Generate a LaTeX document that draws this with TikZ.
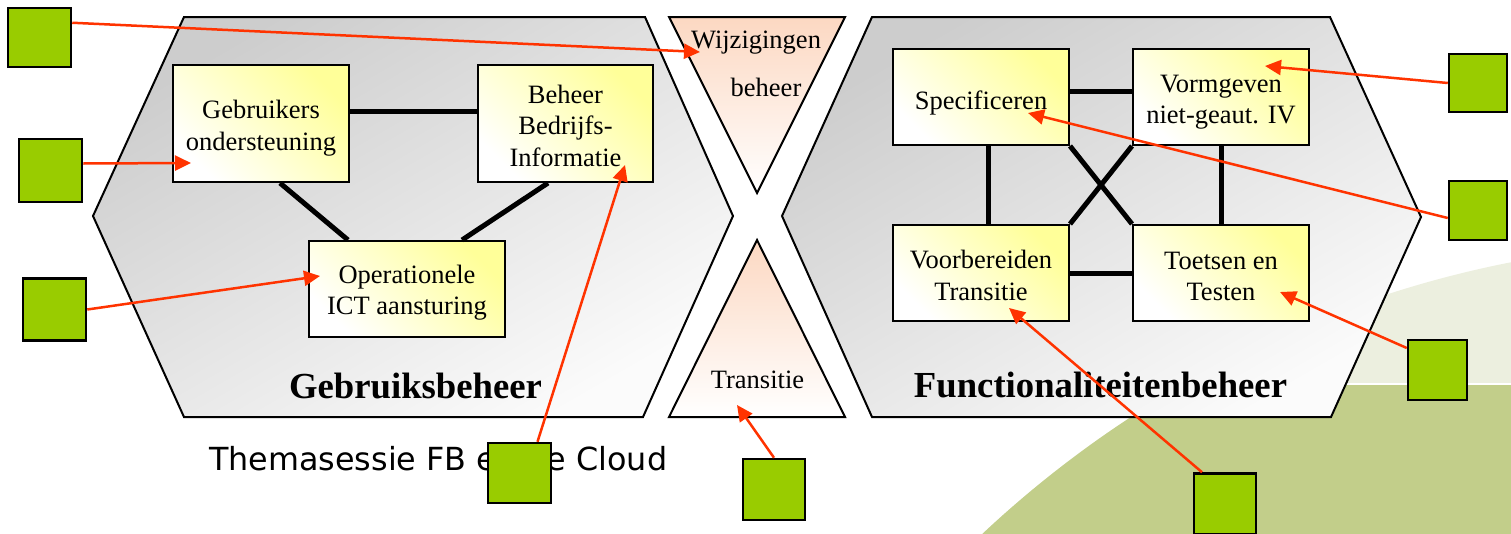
\documentclass[tikz,border=0pt]{standalone}
\usepackage{fontspec}
\setmainfont{Liberation Serif}
\newfontfamily\themefont{DejaVu Sans}
\usetikzlibrary{arrows.meta,calc,shadows}
\definecolor{sqgreen}{HTML}{99CC00}
\definecolor{redarrow}{HTML}{FF3300}
\definecolor{olivelight}{HTML}{ECEFDF}
\definecolor{olivedark}{HTML}{C2CE8A}
\definecolor{boxyellow}{HTML}{FFFF99}
\definecolor{peach}{HTML}{FCD8C2}
\definecolor{hexgray}{HTML}{CDCDCD}
\definecolor{hexlight}{HTML}{FBFBFB}
\newcommand{\boxstrut}[1]{\rule{0pt}{#1pt}}
\begin{document}
\begin{tikzpicture}[x=1pt,y=-1pt,
  procbox/.style={draw, line width=2pt, top color=boxyellow, bottom color=white,
    shading angle=-45, inner sep=0pt, align=center,
    font=\fontsize{26.5}{31.5}\selectfont},
  hexa/.style={draw, line width=2pt, top color=hexgray, bottom color=hexlight, shading angle=30},
  tri/.style={draw, line width=2pt, top color=peach, bottom color=white},
  sq/.style={draw, line width=2.5pt, fill=sqgreen, inner sep=0pt,
    drop shadow={shadow xshift=1.2pt, shadow yshift=-1.2pt, fill=black!45, opacity=0.8}},
  link/.style={line width=5pt},
  ptr/.style={draw=redarrow, line width=2.5pt, -{Triangle[length=16pt,width=15pt]}},
  title/.style={anchor=base, font=\fontsize{36.7}{40}\selectfont\bfseries},
  tritext/.style={anchor=base, font=\fontsize{26.5}{30}\selectfont}
]
\useasboundingbox (0,0) rectangle (1511,533);

% background decoration
\begin{scope}
  \clip (0,0) rectangle (1511,533);
  \fill[olivelight] (1720,1320) circle[radius=1078pt];
  \begin{scope}
    \clip (0,384.5) rectangle (1511,540);
    \fill[olivedark] (1720,1320) circle[radius=1078pt];
  \end{scope}
  \begin{scope}
    \clip (1720,1320) circle[radius=1078pt];
    \draw[white, line width=1.6pt] (0,383.7) -- (1511,383.7);
  \end{scope}
\end{scope}

% footer text
\node[anchor=base west, inner sep=0pt, font=\themefont\fontsize{31.8}{36}\selectfont] (footer) at (209,470) {Themasessie FB en de Cloud};

% hexagons and triangles
\shade[hexa] (184,17) -- (645,17) -- (733,216) -- (643,417) -- (184,417) -- (93,216) -- cycle;
\shade[hexa] (872,17) -- (1330,17) -- (1421,217) -- (1331,417) -- (872,417) -- (782,216) -- cycle;
\shade[tri] (669,17) -- (845,17) -- (757,193) -- cycle;
\shade[tri] (757,240) -- (845,417) -- (669,417) -- cycle;

% texts in triangles
\node[tritext] (wijz) at (756,48) {Wijzigingen};
\node[tritext] (wbeh) at (766,96) {beheer};
\node[tritext] (trans) at (757.5,388) {Transitie};

% titles
\node[title] (tgeb) at (415.5,398) {Gebruiksbeheer};
\node[title] (tfun) at (1100.5,397) {Functionaliteitenbeheer};

% boxes
\node[procbox, minimum width=176pt, minimum height=117pt] (gebr) at (261,123.5) {\boxstrut{28}Gebruikers\\ondersteuning};
\node[procbox, minimum width=175pt, minimum height=117pt] (beh) at (565.5,123.5) {\boxstrut{23}Beheer\\Bedrijfs-\\Informatie};
\node[procbox, minimum width=196pt, minimum height=96pt] (oper) at (407,289) {\boxstrut{26}Operationele\\ICT aansturing};
\node[procbox, minimum width=176pt, minimum height=96pt] (spec) at (981,97) {\boxstrut{30}Specificeren};
\node[procbox, minimum width=176pt, minimum height=96pt] (vorm) at (1221,97) {\boxstrut{28}Vormgeven\\niet-geaut. IV};
\node[procbox, minimum width=176pt, minimum height=96pt] (voor) at (981,273) {\boxstrut{23}Voorbereiden\\Transitie};
\node[procbox, minimum width=176pt, minimum height=96pt] (toets) at (1221,273) {\boxstrut{24}Toetsen en\\Testen};

% thick connectors
\draw[link] ($(gebr.east)+(0,-12.5)$) -- ($(beh.west)+(0,-12.5)$);
\draw[link] ($(gebr.south)+(19,0)$) -- ($(oper.north)+(-59,0)$);
\draw[link] ($(beh.south)+(-17.5,0)$) -- ($(oper.north)+(55,0)$);
\draw[link] ($(spec.east)+(0,-6)$) -- ($(vorm.west)+(0,-6)$);
\draw[link] (voor.east) -- (toets.west);
\draw[link] ($(spec.south)+(7,0)$) -- ($(voor.north)+(7,0)$);
\draw[link] (vorm.south) -- (toets.north);
\draw[link] (spec.south east) -- (toets.north west);
\draw[link] (vorm.south west) -- (voor.north east);

% green squares
\node[sq, minimum width=63pt, minimum height=59pt] (sq1) at (39.5,37.5) {};
\node[sq, minimum width=63pt, minimum height=63pt] (sq2) at (50.5,170.5) {};
\node[sq, minimum width=63pt, minimum height=62pt] (sq3) at (54.5,309.5) {};
\node[sq, minimum width=63pt, minimum height=60pt] (sq4) at (519.5,473) {};
\node[sq, minimum width=62pt, minimum height=61pt] (sq5) at (774,489.5) {};
\node[sq, minimum width=62pt, minimum height=61pt] (sq6) at (1225,504) {};
\node[sq, minimum width=59pt, minimum height=60pt] (sq7) at (1437.5,370) {};
\node[sq, minimum width=58pt, minimum height=59pt] (sq8) at (1478,210.5) {};
\node[sq, minimum width=58pt, minimum height=58pt] (sq9) at (1478,83) {};

% arrow targets
\coordinate (wijzin) at (700,52);
\coordinate (transin) at (737,405);

% red pointers
\draw[ptr] ($(sq1.north east)+(0,16)$) -- (wijzin);
\draw[ptr] ($(sq2.east)+(0,-7)$) -- ($(gebr.center)+(-70,39.5)$);
\draw[ptr] (sq3.east) -- ($(oper.center)+(-87,-13)$);
\draw[ptr] ($(sq4.north)+(18,0)$) -- ($(beh.center)+(59.5,41.5)$);
\draw[ptr] (sq5.north) -- (transin);
\draw[ptr] ($(sq6.north)+(-23,0)$) -- ($(voor.center)+(28,35)$);
\draw[ptr] ($(sq7.west)+(0,-22)$) -- ($(toets.center)+(59,19)$);
\draw[ptr] ($(sq8.west)+(0,7.5)$) -- ($(spec.center)+(47,16)$);
\draw[ptr] (sq9.west) -- ($(vorm.center)+(44,-31)$);
\end{tikzpicture}
\end{document}
